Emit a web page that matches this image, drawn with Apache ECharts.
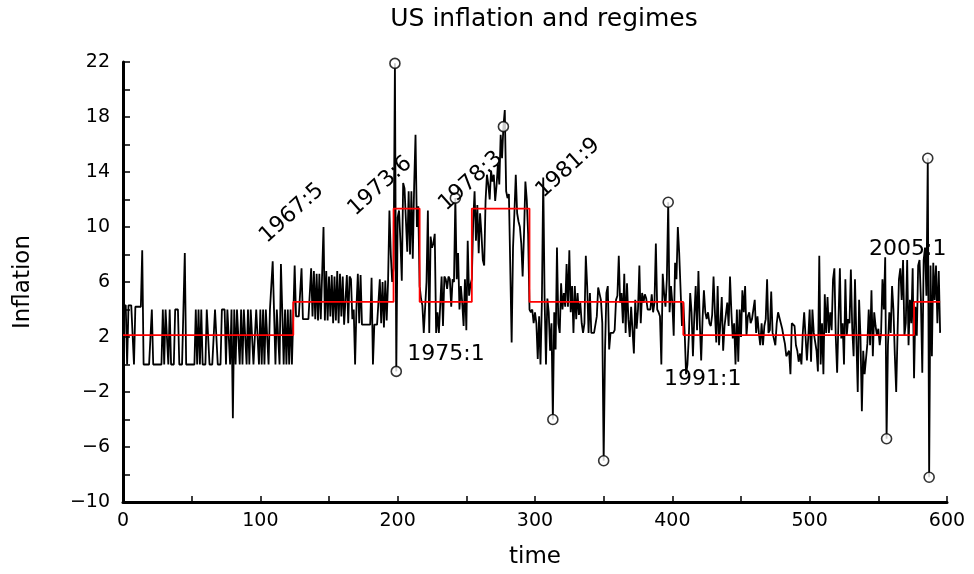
<!DOCTYPE html>
<html>
<head>
<meta charset="utf-8">
<script src="https://cdn.jsdelivr.net/npm/echarts@6/dist/echarts.min.js"></script>
<style>
html,body{margin:0;padding:0;background:#ffffff;}
#chart{width:974px;height:574px;}
</style>
</head>
<body>
<div id="chart"></div>
<script>
// ---- data (monthly inflation, index t = 0 .. 595) ----
// regime 1: t 0..123
const seg1 = [
 4.3,4.3,4.3,0,4.3,4.3,4.3,4.3,0,4.2,
 4.2,4.2,4.2,4.2,8.3,0,0,0,0,0,
 0,4.0,0,0,0,0,0,0,0,4.0,
 0,4.0,4.0,0,4.0,0,0,0,4.0,4.0,
 4.0,0,0,0,0,8.1,0,0,0,0,
 0,0,0,4.0,0,4.0,0,4.0,0,0,
 0,4.0,4.0,0,0,0,0,4.0,4.0,0,
 0,0,4.0,4.0,4.0,0,4.0,4.0,0,4.0,
 -3.9,4.0,0,4.0,4.0,0,4.0,0,4.0,4.0,
 0,4.0,0,4.0,4.0,0,0,4.0,4.0,0,
 4.0,0,4.0,0,4.0,4.0,0,4.0,4.0,7.5,
 3.8,0,4.0,4.0,0,7.3,3.8,0,4.0,0,
 4.0,0,4.0,0
];
// regime 2: t 124..196
const seg2 = [
 3.6,7.2,3.5,3.5,3.5,3.5,7.0,3.3,3.3,3.3,
 3.3,3.3,3.3,7.0,3.5,6.8,3.3,6.6,3.2,6.6,
 3.3,6.6,10.0,3.2,6.8,3.2,6.4,3.5,6.5,3.0,
 6.4,3.2,6.8,3.0,6.6,3.5,6.4,2.9,2.9,6.5,
 3.0,6.4,6.2,3.3,4.0,0.0,4.2,6.6,3.0,6.5,
 2.9,2.9,2.9,2.9,2.9,2.9,2.9,6.3,0.0,2.9,
 2.9,2.9,2.9,6.2,3.0,6.0,2.7,6.1,3.2,6.0,
 11.2,8.0,6.0
];
// regime 3: t 197..215
const seg3 = [
 7.0,21.9,-0.5,10.7,11.2,9.0,6.1,13.2,12.8,12.9,
 8.2,12.6,8.0,12.6,7.7,13.0,16.7,10.0,11.5
];
// regime 4: t 216..253
const seg4 = [
 5.7,4.8,4.3,2.3,2.3,6.0,11.2,2.3,9.3,8.5,
 8.8,9.5,2.3,3.8,2.3,2.3,6.4,2.8,6.4,6.2,
 5.5,6.4,6.2,4.2,6.2,6.0,12.1,6.2,8.1,4.0,
 5.7,4.5,2.8,6.2,2.5,9.0,5.0,5.8
];
// regime 5: t 254..295
const seg5 = [
 6.2,10.4,12.6,9.0,11.6,8.1,11.0,9.5,7.6,7.2,
 11.9,13.8,13.1,12.0,14.1,13.3,13.8,11.9,13.0,14.6,
 13.1,16.7,15.0,17.3,18.5,12.6,12.1,12.4,7.0,1.6,
 8.5,11.0,13.8,11.0,10.4,10.0,8.8,6.4,9.5,13.3,
 12.0,9.5
];
// regime 6: t 296..407
const seg6 = [
 4.0,3.8,4.0,3.0,3.8,3.0,0.4,3.5,0.0,4.5,
 13.6,4.7,0.0,4.8,3.8,1.0,3.0,-4.0,3.8,1.1,
 8.5,3.0,2.3,5.9,4.0,5.2,4.2,7.3,4.2,8.3,
 3.8,5.7,2.3,5.7,3.3,5.2,3.6,4.5,3.0,2.3,
 3.0,7.9,5.7,2.3,5.2,2.3,2.3,2.3,2.3,3.5,
 5.6,5.6,4.7,3.0,-7.0,1.1,5.2,5.7,1.1,2.3,
 2.3,2.3,2.5,4.7,5.0,7.9,4.5,5.2,3.0,6.6,
 2.3,5.9,3.3,2.0,4.2,2.5,0.8,4.7,2.6,4.0,
 7.2,3.0,5.2,4.5,5.1,4.8,4.0,4.0,4.0,5.1,
 3.8,4.5,8.8,4.0,3.8,3.5,0.0,6.6,5.2,4.2,
 6.2,11.8,3.8,5.7,4.5,2.1,7.4,6.2,10.0,8.1,
 8.0,2.8
];
// regime 7: t 408..575
const seg7 = [
 4.5,2.3,-0.7,0.0,2.0,5.2,3.8,0.6,3.5,5.7,
 2.5,6.8,3.0,0.3,3.3,5.4,3.8,3.3,3.8,3.0,
 2.8,3.6,6.4,3.8,1.6,5.7,1.4,3.0,4.9,1.0,
 2.8,2.8,4.5,2.8,6.4,3.8,1.9,3.0,0.0,4.0,
 0.2,4.0,2.0,5.4,3.8,5.7,2.1,3.5,3.8,3.0,
 3.3,4.0,4.7,2.3,3.5,2.3,1.4,3.0,1.4,2.8,
 3.3,6.2,2.3,2.5,5.3,2.3,2.3,1.4,3.0,3.8,
 3.8,3.0,2.6,2.0,1.5,0.6,0.6,1.0,-0.7,3.0,
 3.0,2.8,1.4,1.0,0.2,0.8,0.0,2.3,3.8,3.8,
 0.3,2.0,4.0,0.2,4.0,2.3,2.3,1.0,-0.5,7.9,
 0.0,3.0,-0.7,5.1,2.3,4.9,2.3,3.8,2.5,6.2,
 7.0,2.0,-0.6,3.3,7.0,1.9,3.0,0.0,6.2,2.1,
 3.3,3.0,6.9,2.6,0.6,6.2,1.9,-2.0,4.7,2.0,
 -3.4,1.0,-0.7,0.4,1.5,4.0,1.4,5.4,0.6,3.8,
 2.8,2.1,2.6,1.4,2.3,6.2,4.0,7.8,-5.4,1.4,
 3.8,2.3,5.7,4.0,0.7,-2.0,2.3,6.2,7.0,4.7,
 7.6,2.1,3.0,7.6,1.4,4.7,3.0,7.0
];
// regime 8: t 576..595
const seg8 = [
 -1.0,4.2,2.1,7.2,7.6,4.7,-0.6,7.6,8.5,5.0,
 15.0,-8.2,7.2,0.6,7.4,4.7,7.2,3.0,6.8,2.3
];

// regimes (start index and mean level)
const regimeStarts = [0, 124, 197, 216, 254, 296, 408, 576];
const regimeLevels = [2.14, 4.55, 11.34, 4.55, 11.34, 4.55, 2.14, 4.55];

// outlier observations marked with circles (indices into the series)
const outlierIdx = [198, 199, 242, 277, 313, 350, 397, 556, 586, 587];

// date annotations
const annotNames  = ['1967:5', '1973:6', '1978:3', '1981:9', '1975:1', '1991:1', '2005:1'];
const annotT      = [122.9, 187.2, 253.3, 324.1, 235.2, 422.1, 571.4];
const annotV      = [11.0, 12.97, 13.33, 14.28, 0.73, -1.07, 8.37];
const annotRotate = [42, 42, 42, 42, 0, 0, 0];

// axis tick labels
const xTickLabels = [0, 100, 200, 300, 400, 500, 600];
const yTickLabels = [-10, -6, -2, 2, 6, 10, 14, 18, 22];

// ---- build chart ----
const inflation = [].concat(seg1, seg2, seg3, seg4, seg5, seg6, seg7, seg8);
const lineData = inflation.map((v, i) => [i, v]);
const lastT = inflation.length - 1;
const stepData = regimeStarts.map((s, i) => [s, regimeLevels[i]])
  .concat([[lastT, regimeLevels[regimeLevels.length - 1]]]);
const outlierData = outlierIdx.map(i => [i, inflation[i]]);
const annotData = annotNames.map((n, i) => ({
  name: n,
  value: [annotT[i], annotV[i]],
  label: { rotate: annotRotate[i] }
}));

const FONT = 'DejaVu Sans';
const chart = echarts.init(document.getElementById('chart'), null, { renderer: 'canvas' });
chart.setOption({
  animation: false,
  backgroundColor: '#ffffff',
  textStyle: { fontFamily: FONT, color: '#000' },
  title: {
    text: 'US inflation and regimes',
    left: 539,
    top: 2,
    textAlign: 'center',
    textStyle: { fontFamily: FONT, fontSize: 25, fontWeight: 'normal', color: '#000' }
  },
  grid: { left: 123, right: 27, top: 62, bottom: 65, containLabel: false },
  xAxis: {
    type: 'value',
    min: 0, max: 600, interval: 50,
    name: 'time',
    nameLocation: 'middle',
    nameGap: 44,
    nameTextStyle: { fontFamily: FONT, fontSize: 23, color: '#000' },
    axisLine: { show: true, onZero: false, lineStyle: { color: '#000', width: 3 } },
    axisTick: { show: true, inside: true, length: 6, lineStyle: { color: '#000', width: 1.5 } },
    splitLine: { show: false },
    axisLabel: {
      show: true, margin: 10, fontSize: 19, color: '#000', fontFamily: FONT,
      showMinLabel: true, showMaxLabel: true,
      formatter: v => (xTickLabels.indexOf(v) >= 0 ? String(v) : '')
    }
  },
  yAxis: {
    type: 'value',
    min: -10, max: 22, interval: 2,
    name: 'Inflation',
    nameLocation: 'middle',
    nameGap: 88,
    nameRotate: 90,
    nameTextStyle: { fontFamily: FONT, fontSize: 23, color: '#000' },
    axisLine: { show: true, onZero: false, lineStyle: { color: '#000', width: 3 } },
    axisTick: { show: true, inside: true, length: 7, lineStyle: { color: '#000', width: 1.5 } },
    splitLine: { show: false },
    axisLabel: {
      show: true, margin: 13, fontSize: 19, color: '#000', fontFamily: FONT,
      showMinLabel: true, showMaxLabel: true,
      formatter: v => (yTickLabels.indexOf(v) >= 0 ? String(v).replace('-', '\u2212') : '')
    }
  },
  series: [
    {
      type: 'line',
      name: 'inflation',
      data: lineData,
      showSymbol: false,
      symbol: 'none',
      lineStyle: { color: '#000', width: 1.8 },
      z: 2,
      silent: true
    },
    {
      type: 'line',
      name: 'regimes',
      data: stepData,
      step: 'end',
      showSymbol: false,
      symbol: 'none',
      lineStyle: { color: '#ff0000', width: 1.8 },
      z: 3,
      silent: true
    },
    {
      type: 'scatter',
      name: 'outliers',
      data: outlierData,
      symbol: 'circle',
      symbolSize: 10,
      itemStyle: { color: '#ffffff', borderColor: '#000', borderWidth: 1.6 },
      z: 4,
      silent: true
    },
    {
      type: 'scatter',
      name: 'dates',
      data: annotData,
      symbolSize: 1,
      itemStyle: { color: 'rgba(0,0,0,0)' },
      label: {
        show: true,
        position: 'inside',
        formatter: '{b}',
        fontFamily: FONT,
        fontSize: 22,
        color: '#000',
        opacity: 1,
        textBorderWidth: 0,
        textBorderColor: 'transparent',
        align: 'center',
        verticalAlign: 'middle'
      },
      z: 5,
      silent: true
    }
  ]
});
</script>
</body>
</html>
